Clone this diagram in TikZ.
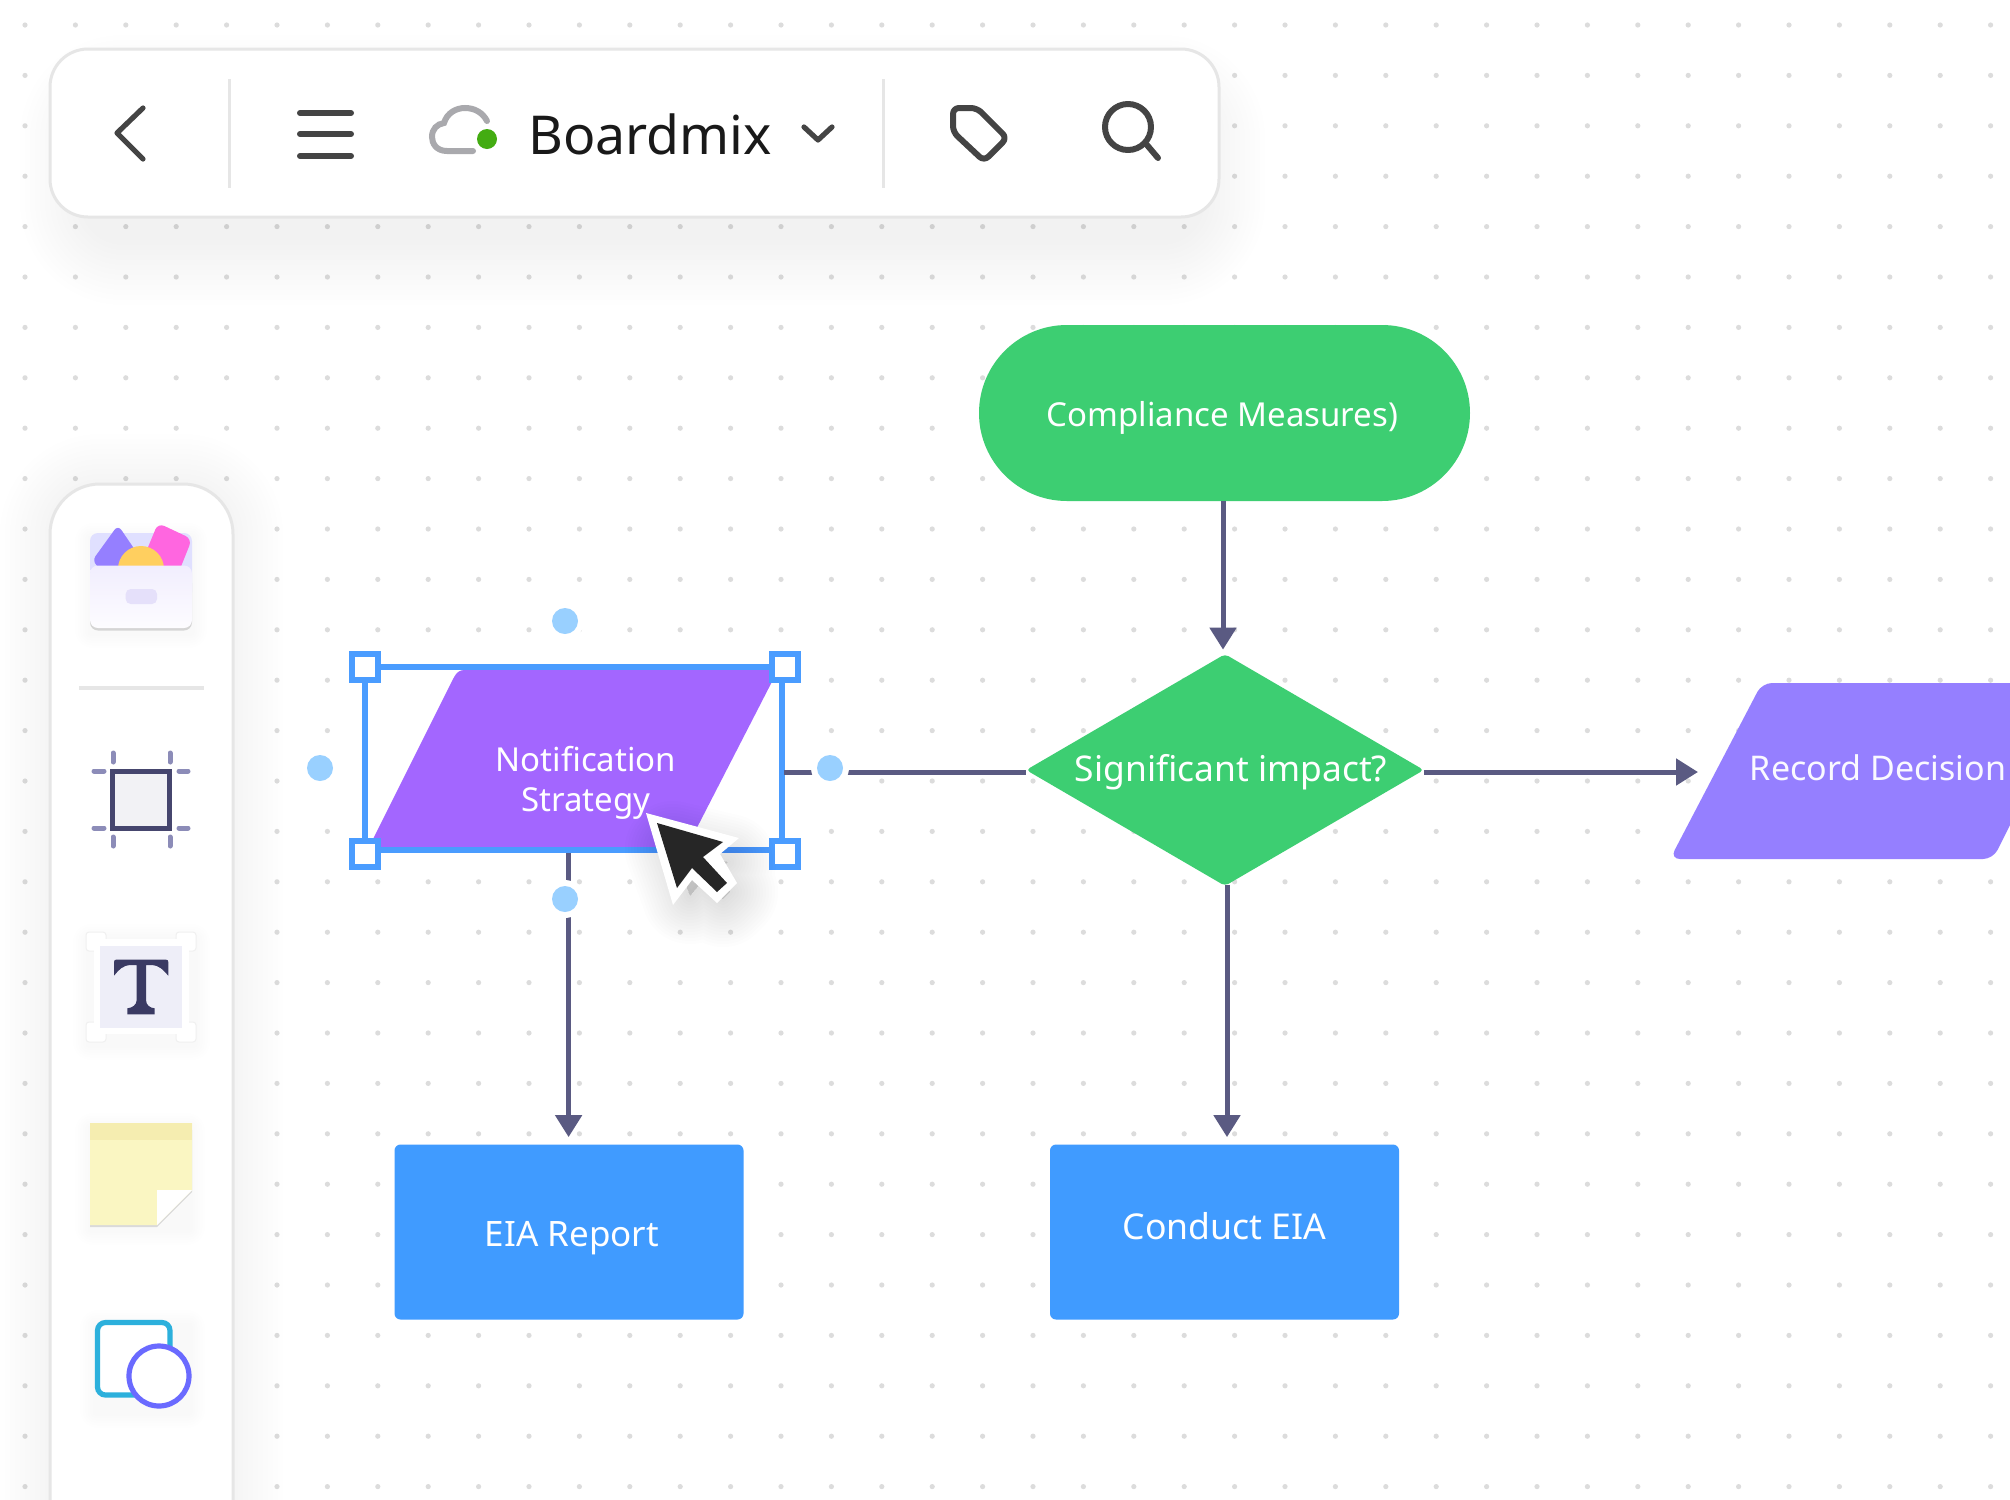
\documentclass[tikz,border=0pt]{standalone}
\usepackage{fontspec}
\setmainfont{Noto Sans}
\usetikzlibrary{arrows.meta,shapes.geometric}
\definecolor{griddot}{HTML}{DCDCDC}
\definecolor{panelline}{HTML}{E6E6E6}
\definecolor{icongrey}{HTML}{444444}
\definecolor{conn}{HTML}{5A5A82}
\definecolor{greenc}{HTML}{3DCE72}
\definecolor{bluec}{HTML}{409BFF}
\definecolor{framec}{HTML}{4A9CFF}
\definecolor{dotc}{HTML}{99D0FF}
\definecolor{purplea}{HTML}{A366FF}
\definecolor{purpleb}{HTML}{957FFF}
\definecolor{darkfr}{HTML}{46466E}
\definecolor{tickc}{HTML}{8C8CB8}
\definecolor{tdark}{HTML}{3A3A63}
\definecolor{cloudc}{HTML}{A9A9AD}
\definecolor{dotgreen}{HTML}{43AC12}
\tikzset{
  flowtext/.style={text=white,font=\fontsize{16.5pt}{20pt}\selectfont,inner sep=0pt,align=center},
  arrowline/.style={draw=conn,line width=2.5pt,-{Triangle[length=11pt,width=13pt]}},
  plainline/.style={draw=conn,line width=2.5pt},
  tbicon/.style={draw=icongrey,line width=3pt,line cap=round,line join=round},
  handle/.style={rectangle,draw=framec,fill=white,line width=3pt,minimum size=13pt,inner sep=0pt},
  linkdot/.style={circle,fill=dotc,minimum size=13pt,inner sep=0pt},
  halo/.style={fill=white},
  ticks/.style={draw=tickc,line width=2.5pt,line cap=round},
  whitepart/.style={fill=white,draw=black!6,line width=0.5pt},
}
\newcommand{\softbox}[7]{% x1 y1 x2 y2 radius(px) layers opacity ; grows 5px per layer
  \foreach \k in {1,...,#6}{
    \pgfmathsetmacro{\rr}{(#5+\k*5)*0.5}
    \fill[black,opacity=#7,rounded corners=\rr pt] ({#1-\k*5},{#2-\k*5}) rectangle ({#3+\k*5},{#4+\k*5});
  }}
\newcommand{\softsmall}[4]{% x1 y1 x2 y2 : small icon shadow
  \foreach \k in {1,...,6}{
    \fill[black,opacity=0.005,rounded corners=\k*1.5 pt] ({#1-\k*2.5},{#2-\k*2.5+5}) rectangle ({#3+\k*2.5},{#4+\k*2.5+5});
  }}
\begin{document}
\begin{tikzpicture}[x=0.5pt,y=-0.5pt]
\clip (0,0) rectangle (2010,1500);
\fill[white] (0,0) rectangle (2010,1500);
% dot grid
\foreach \i in {0,...,39}{\foreach \j in {0,...,29}{
  \fill[griddot] ({25+50.4*\i},{25+50.4*\j}) circle (2.6);
}}
% panel shadows
\softbox{85}{100}{1200}{240}{38}{13}{0.005}
\softbox{50}{484}{233}{1560}{50}{10}{0.004}
% toolbar
\draw[draw=panelline,fill=white,line width=1.5pt,rounded corners=19pt] (50,49) rectangle (1219,217);
\draw[panelline,line width=1.5pt] (229,79) -- (229,188);
\draw[panelline,line width=1.5pt] (883,79) -- (883,188);
\draw[tbicon,line width=2.6pt] (143,108) -- (117,133) -- (143,159);
\draw[tbicon] (300,113) -- (351,113);
\draw[tbicon] (300,134) -- (351,134);
\draw[tbicon] (300,156) -- (351,156);
\draw[draw=cloudc,line width=3pt,line cap=round] (473,151) -- (447,151)
  .. controls (436,151) and (432,143) .. (432,137)
  .. controls (432,129) and (437,124) .. (444,123)
  .. controls (447,113) and (456,108) .. (465,108)
  .. controls (475,108) and (483,113) .. (487,121);
\fill[fill=dotgreen] (487,139) circle (10);
\node[inner sep=0pt,text=black!90,font=\fontsize{26.8pt}{30pt}\selectfont,anchor=base] (brand) at (650,154) {Boardmix};
\draw[tbicon,line width=2.6pt] (804,127) -- (818,140) -- (832,127);
\draw[tbicon,rounded corners=3pt] (953,108) -- (977,108) -- (1007,138) -- (984,161) -- (953,132) -- cycle;
\draw[tbicon] (1128,127) circle (23);
\draw[tbicon] (1147,145) -- (1158,158);
% sidebar
\draw[draw=panelline,fill=white,line width=1.5pt,rounded corners=25pt] (50,484) rectangle (233,1560);
\draw[draw=panelline,line width=2pt] (79,688) -- (204,688);
% toolbox icon
\softsmall{90}{533}{192}{628}
\fill[black,opacity=0.14,rounded corners=4pt] (90,575) rectangle (192,630.5);
\fill[fill=blue!12!white,rounded corners=4pt] (90,533) rectangle (192,600);
\fill[fill={rgb,255:red,255;green,102;blue,224},rounded corners=3.5pt] (158,523) -- (192,539) -- (178,574) -- (144,557) -- cycle;
\fill[fill=purpleb,rounded corners=3pt] (118,525) -- (92,561) -- (104,572) -- (150,572) -- cycle;
\fill[fill={rgb,255:red,255;green,207;blue,95}] (141,569) circle (23);
\shade[top color={rgb,255:red,241;green,238;blue,254},bottom color={rgb,255:red,253;green,252;blue,255},rounded corners=4pt] (90,565.5) rectangle (192,628);
\fill[fill={rgb,255:red,229;green,224;blue,250},rounded corners=2.5pt] (125.7,589) rectangle (157,604);
% frame icon
\draw[draw=darkfr,fill={rgb,255:red,242;green,242;blue,245},line width=2.6pt] (112.5,771.5) rectangle (169.5,828.5);
\draw[ticks] (113,753) -- (113,762);
\draw[ticks] (170,753) -- (170,762);
\draw[ticks] (113,837) -- (113,846);
\draw[ticks] (170,837) -- (170,846);
\draw[ticks] (94,771) -- (104,771);
\draw[ticks] (179,771) -- (188,771);
\draw[ticks] (94,828) -- (104,828);
\draw[ticks] (179,828) -- (188,828);
% text-tool icon
\softsmall{88}{934}{195}{1040}
\draw[whitepart,rounded corners=1.5pt] (86,932) rectangle (106,951);
\draw[whitepart,rounded corners=1.5pt] (176,932) rectangle (196,951);
\draw[whitepart,rounded corners=1.5pt] (86,1022) rectangle (106,1042);
\draw[whitepart,rounded corners=1.5pt] (176,1022) rectangle (196,1042);
\fill[white] (94,939) rectangle (189,1034);
\fill[fill={rgb,255:red,238;green,238;blue,248}] (100,946) rectangle (182,1028);
\fill[tdark] (114,962) .. controls (114,960.5) and (115,959.7) .. (116,959.7) -- (166,959.7)
  .. controls (167.5,959.7) and (168.3,960.5) .. (168.3,962) -- (168.3,975.7)
  .. controls (163,970) and (160,965) .. (150,965) -- (146,965) -- (146,1000)
  .. controls (146,1005) and (150,1008) .. (154.7,1008.3) -- (154.7,1014.3) -- (127.3,1014.3) -- (127.3,1008.3)
  .. controls (132,1008) and (136.7,1005) .. (136.7,1000) -- (136.7,965) -- (132,965)
  .. controls (122,965) and (119,970) .. (114,975.7) -- cycle;
% sticky note
\softsmall{90}{1123}{190}{1225}
\fill[black,opacity=0.12] (90,1130) -- (192,1130) -- (192,1192) -- (157,1227) -- (90,1227) -- cycle;
\fill[fill={rgb,255:red,250;green,246;blue,194}] (90,1123) -- (192,1123) -- (192,1190) -- (157,1225) -- (90,1225) -- cycle;
\fill[fill={rgb,255:red,245;green,237;blue,176}] (90,1123) rectangle (192,1140);
\fill[white] (157,1190) -- (192,1190) -- (157,1225) -- cycle;
% shapes icon
\softsmall{95}{1320}{190}{1408}
\draw[draw={rgb,255:red,44;green,176;blue,220},fill=white,line width=2.6pt,rounded corners=4pt] (97.5,1322.5) rectangle (170,1395);
\draw[draw={rgb,255:red,106;green,106;blue,255},fill=white,line width=2.6pt] (159,1376) circle (30);
% flowchart shapes
\node[rectangle,fill=greenc,rounded corners=44pt,minimum width=245.5pt,minimum height=88pt,inner sep=0pt,
  label={[flowtext,name=complianceText,shift={(-2,5)}]center:Compliance Measures)}] (compliance) at (1224.5,413) {};
\node[diamond,fill=greenc,minimum width=199pt,minimum height=116pt,inner sep=0pt,rounded corners=2pt,
  label={[flowtext,font=\fontsize{17.7pt}{20pt}\selectfont,name=impactText,shift={(6,2)}]center:Significant impact?}] (impact) at (1225,770) {};
\node[rectangle,fill=bluec,rounded corners=3pt,minimum width=174.5pt,minimum height=87.5pt,inner sep=0pt,
  label={[flowtext,font=\fontsize{17.5pt}{20pt}\selectfont,name=eiaText,shift={(3,6)}]center:EIA Report}] (eia) at (569,1232) {};
\node[rectangle,fill=bluec,rounded corners=3pt,minimum width=174.5pt,minimum height=87.5pt,inner sep=0pt,
  label={[flowtext,font=\fontsize{17.8pt}{20pt}\selectfont,name=conductText,shift={(0,-5.5)}]center:Conduct EIA}] (conduct) at (1224.5,1232) {};
% selection frame (opaque interior) and Notification Strategy
\node[rectangle,fill=white,outer sep=0pt,minimum width=208.5pt,minimum height=91.5pt,inner sep=0pt] (selbox) at (573.5,758.5) {};
\fill[purplea] (453.6,678) .. controls (457,671.5) and (460,670) .. (465,670) -- (778,670) -- (686,849) -- (368,849) -- cycle;
\draw[framec,line width=3pt] (selbox.north west) rectangle (selbox.south east);
\node[flowtext] (notif) at (586,783) {Notification\\Strategy};
% Record Decision
\fill[purpleb,rounded corners=5pt] (1762,683) -- (2081,683) -- (1993,859) -- (1670,859) -- cycle;
\node[flowtext,font=\fontsize{17pt}{20pt}\selectfont,text=white!95!purpleb] (record) at (1878,768) {Record Decision};
% connectors
\coordinate (compBot) at (1223,501);
\coordinate (selbot) at (568.6,853);
\coordinate (selright) at (784,772);
\coordinate (recordIn) at (1698,772);
\coordinate (impactBot) at (1227,885);
\draw[arrowline,shorten >=2pt] (compBot) -- (compBot |- impact.north);
\draw[plainline] (impact.west |- recordIn) -- (selright);
\draw[arrowline] (impact.east |- recordIn) -- (recordIn);
\draw[arrowline,shorten >=3.5pt] (impactBot) -- (impactBot |- conduct.north);
\draw[arrowline,shorten >=3.5pt] (selbot) -- (selbot |- eia.north);
% link dots and handles
\foreach \n/\x/\y in {dt/565/621,dl/320/768,dr/830/768,db/565/899}{
  \fill[halo] (\x,\y) circle (19);
  \node[linkdot] (\n) at (\x,\y) {};
}
\node[handle] (h1) at (365,667) {};
\node[handle] (h2) at (785,667) {};
\node[handle] (h3) at (365,854) {};
\node[handle] (h4) at (785,854) {};
% cursor
\foreach \w in {1,...,16}{
  \fill[black,opacity=0.008,draw=black,draw opacity=0.008,line width=\w*3pt,line join=round,shift={(8,14)}]
    (665,835) -- (720,848) -- (710,858) -- (722,878) -- (715,885) -- (692,870) -- (682,882) -- cycle;
}
\fill[white] (646,813) -- (739,838) -- (720,854) -- (737,883) -- (717,903) -- (692,880) -- (673,905) -- cycle;
\fill[black!85] (657,823) -- (723,842) -- (703,857) -- (727,883) -- (717,892) -- (692,868) -- (677,888) -- cycle;
\end{tikzpicture}
\end{document}
